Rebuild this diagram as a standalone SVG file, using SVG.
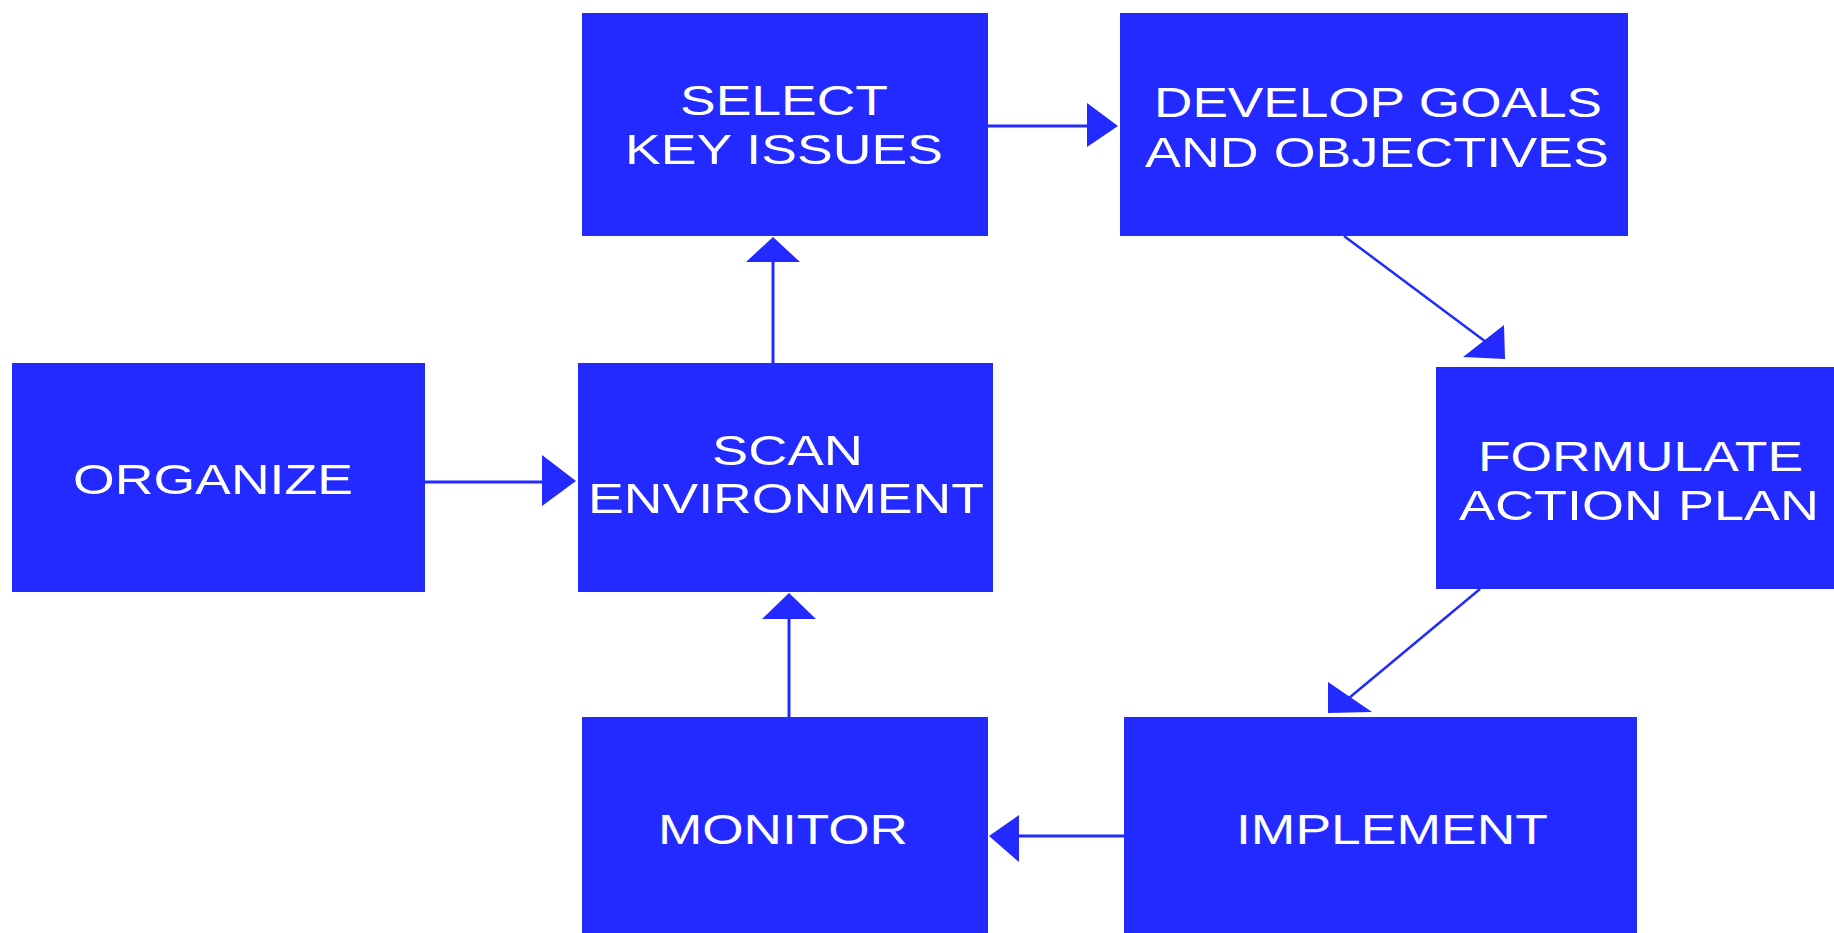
<svg xmlns="http://www.w3.org/2000/svg" width="1834" height="933" viewBox="0 0 1834 933">
<style>
.box{fill:#222AFF}
.lbl{fill:#FFFFFF;font-family:"Liberation Sans",Arial,sans-serif;font-size:43px}
.ln{stroke:#222AFF;stroke-width:3;fill:none}
.dg{stroke:#222AFF;stroke-width:2.5;fill:none}
.ah{fill:#222AFF}
</style>
<rect width="1834" height="933" fill="#FFFFFF"/>
<g id="connectors">
<line class="ln" x1="425" y1="482" x2="545" y2="482"/>
<polygon class="ah" points="542,455 576,481 542,506"/>
<line class="ln" x1="773" y1="363" x2="773" y2="260"/>
<polygon class="ah" points="746,262 773,237 800,262"/>
<line class="ln" x1="988" y1="126" x2="1090" y2="126"/>
<polygon class="ah" points="1087,103 1118,126 1087,147"/>
<line class="dg" x1="1344" y1="236" x2="1486" y2="342"/>
<polygon class="ah" points="1504,325 1505,359 1463,357"/>
<line class="dg" x1="1480" y1="589" x2="1349" y2="698"/>
<polygon class="ah" points="1328,682 1328,713 1372,712"/>
<line class="ln" x1="1124" y1="836" x2="1016" y2="836"/>
<polygon class="ah" points="1019,815 989,836 1019,862"/>
<line class="ln" x1="789" y1="717" x2="789" y2="616"/>
<polygon class="ah" points="762,619 789,593 816,619"/>
</g>
<g id="select">
<rect class="box" x="582" y="13" width="406" height="223"/>
<text class="lbl" x="680" y="115" textLength="208" lengthAdjust="spacingAndGlyphs">SELECT</text>
<text class="lbl" x="625" y="164" textLength="318" lengthAdjust="spacingAndGlyphs">KEY ISSUES</text>
</g>
<g id="develop">
<rect class="box" x="1120" y="13" width="508" height="223"/>
<text class="lbl" x="1154" y="117" textLength="448" lengthAdjust="spacingAndGlyphs">DEVELOP GOALS</text>
<text class="lbl" x="1145" y="167" textLength="464" lengthAdjust="spacingAndGlyphs">AND OBJECTIVES</text>
</g>
<g id="organize">
<rect class="box" x="12" y="363" width="413" height="229"/>
<text class="lbl" x="73" y="494" textLength="280" lengthAdjust="spacingAndGlyphs">ORGANIZE</text>
</g>
<g id="scan">
<rect class="box" x="578" y="363" width="415" height="229"/>
<text class="lbl" x="712" y="465" textLength="151" lengthAdjust="spacingAndGlyphs">SCAN</text>
<text class="lbl" x="588" y="513" textLength="396" lengthAdjust="spacingAndGlyphs">ENVIRONMENT</text>
</g>
<g id="formulate">
<rect class="box" x="1436" y="367" width="398" height="222"/>
<text class="lbl" x="1478" y="471" textLength="325" lengthAdjust="spacingAndGlyphs">FORMULATE</text>
<text class="lbl" x="1459" y="520" textLength="360" lengthAdjust="spacingAndGlyphs">ACTION PLAN</text>
</g>
<g id="monitor">
<rect class="box" x="582" y="717" width="406" height="216"/>
<text class="lbl" x="658" y="844" textLength="250" lengthAdjust="spacingAndGlyphs">MONITOR</text>
</g>
<g id="implement">
<rect class="box" x="1124" y="717" width="513" height="216"/>
<text class="lbl" x="1236" y="844" textLength="312" lengthAdjust="spacingAndGlyphs">IMPLEMENT</text>
</g>
</svg>
